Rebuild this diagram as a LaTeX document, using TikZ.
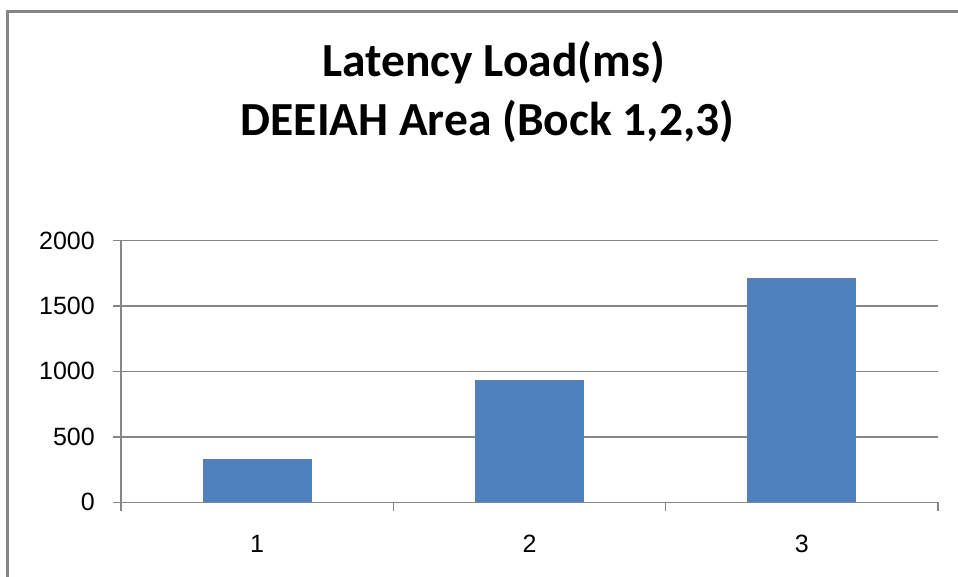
\documentclass[tikz,border=0pt]{standalone}
\usepackage{fontspec}
\setmainfont{Liberation Sans}
\newfontfamily\titlefont{Carlito}
\definecolor{barblue}{HTML}{4F81BD}
\definecolor{gridgray}{HTML}{868686}
\begin{document}
\begin{tikzpicture}[x=1pt,y=-1pt,
  grid/.style={draw=gridgray,line width=1.6pt},
  bar/.style={fill=barblue,draw=none},
  ticklbl/.style={font=\fontsize{25}{25}\selectfont,inner sep=0pt},
  titlelbl/.style={font=\titlefont\bfseries\fontsize{47.5}{59}\selectfont,align=center,inner sep=0pt}]
\useasboundingbox (0,0) rectangle (958,577);
\fill[white] (0,0) rectangle (958,577);
% outer frame (cut at right and bottom)
\draw[draw=gridgray,line width=2.4pt] (7.5,600) -- (7.5,11.5) -- (970,11.5);
% title
\node[titlelbl,anchor=base] (t1) at (493.5,77) {Latency Load(ms)};
\node[titlelbl,anchor=base] (t2) at (487.5,136) {DEEIAH Area (Bock 1,2,3)};
% gridlines and y ticks
\foreach \v/\lab in {0/0,500/500,1000/1000,1500/1500,2000/2000}{
  \pgfmathsetmacro{\yy}{502.3-\v*0.13095}
  \draw[grid] (113,\yy) -- (938,\yy);
  \node[ticklbl,anchor=east] (y\v) at (95,\yy) {\lab};
}
% bars
\foreach \i/\v in {1/334,2/936,3/1716}{
  \pgfmathsetmacro{\cx}{121+(\i-0.5)*272.33}
  \pgfmathsetmacro{\yy}{502.3-\v*0.13095}
  \fill[bar] (\cx-54.5,502.3) rectangle (\cx+54.5,\yy);
  \node[ticklbl] (x\i) at (\cx,544) {\i};
}
% axes
\draw[grid] (121,240.5) -- (121,511);
\draw[grid] (113,502.3) -- (938,502.3);
\foreach \k in {1,2,3}{
  \pgfmathsetmacro{\xx}{121+\k*272.33}
  \draw[grid] (\xx,502.3) -- (\xx,511);
}
\end{tikzpicture}
\end{document}
